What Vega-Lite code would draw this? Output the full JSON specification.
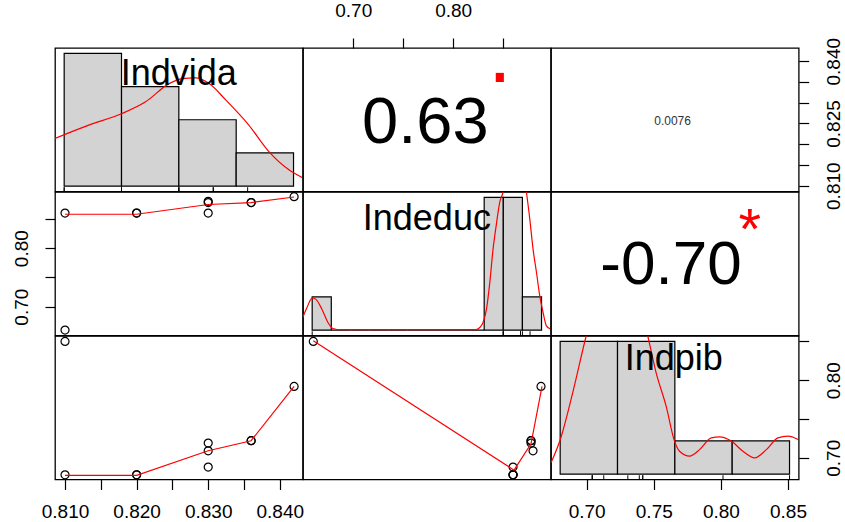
{
  "$schema": "https://vega.github.io/schema/vega-lite/v6.json",
  "background": "white",
  "padding": {"left": 11, "top": 0, "right": 2, "bottom": 5},
  "columns": 3,
  "spacing": 0,
  "bounds": "flush",
  "resolve": {"scale": {"x": "independent", "y": "independent"}},
  "config": {
    "view": {"stroke": "black", "strokeWidth": 1.3},
    "axis": {"domain": false, "grid": false, "ticks": true, "tickColor": "black", "tickWidth": 1.2, "tickSize": 10, "labelColor": "black", "labelFont": "Liberation Sans", "labelFontSize": 19, "labelOverlap": false, "labelFlush": false, "labelBound": false, "title": null}
  },
  "datasets": {
    "obs": [
      {"Indvida": 0.810, "Indeduc": 0.660, "Indpib": 0.850},
      {"Indvida": 0.810, "Indeduc": 0.860, "Indpib": 0.678},
      {"Indvida": 0.820, "Indeduc": 0.860, "Indpib": 0.678},
      {"Indvida": 0.820, "Indeduc": 0.860, "Indpib": 0.678},
      {"Indvida": 0.830, "Indeduc": 0.860, "Indpib": 0.688},
      {"Indvida": 0.830, "Indeduc": 0.878, "Indpib": 0.719},
      {"Indvida": 0.830, "Indeduc": 0.880, "Indpib": 0.709},
      {"Indvida": 0.836, "Indeduc": 0.878, "Indpib": 0.722},
      {"Indvida": 0.836, "Indeduc": 0.878, "Indpib": 0.722},
      {"Indvida": 0.842, "Indeduc": 0.888, "Indpib": 0.792}
    ],
    "vars": [{"var": "Indvida"}, {"var": "Indeduc"}, {"var": "Indpib"}],
    "cors": [
      {"pair": "Indvida-Indeduc", "r": "0.63", "sig": "."},
      {"pair": "Indvida-Indpib", "r": "0.0076", "sig": ""},
      {"pair": "Indeduc-Indpib", "r": "-0.70", "sig": "*"}
    ],
    "hist": [
      {"var": "Indvida", "start": 0.81, "end": 0.82, "rel": 1.0},
      {"var": "Indvida", "start": 0.82, "end": 0.83, "rel": 0.75},
      {"var": "Indvida", "start": 0.83, "end": 0.84, "rel": 0.5},
      {"var": "Indvida", "start": 0.84, "end": 0.85, "rel": 0.25},
      {"var": "Indeduc", "start": 0.66, "end": 0.68, "rel": 0.25},
      {"var": "Indeduc", "start": 0.68, "end": 0.70, "rel": 0},
      {"var": "Indeduc", "start": 0.70, "end": 0.72, "rel": 0},
      {"var": "Indeduc", "start": 0.72, "end": 0.74, "rel": 0},
      {"var": "Indeduc", "start": 0.74, "end": 0.76, "rel": 0},
      {"var": "Indeduc", "start": 0.76, "end": 0.78, "rel": 0},
      {"var": "Indeduc", "start": 0.78, "end": 0.80, "rel": 0},
      {"var": "Indeduc", "start": 0.80, "end": 0.82, "rel": 0},
      {"var": "Indeduc", "start": 0.82, "end": 0.84, "rel": 0},
      {"var": "Indeduc", "start": 0.84, "end": 0.86, "rel": 1.0},
      {"var": "Indeduc", "start": 0.86, "end": 0.88, "rel": 1.0},
      {"var": "Indeduc", "start": 0.88, "end": 0.90, "rel": 0.25},
      {"var": "Indpib", "start": 0.65, "end": 0.70, "rel": 1.0},
      {"var": "Indpib", "start": 0.70, "end": 0.75, "rel": 1.0},
      {"var": "Indpib", "start": 0.75, "end": 0.80, "rel": 0.25},
      {"var": "Indpib", "start": 0.80, "end": 0.85, "rel": 0.25}
    ],
    "dens": [
      {"var": "Indvida", "x": 0.8084, "y": 0.360},
      {"var": "Indvida", "x": 0.8143, "y": 0.460},
      {"var": "Indvida", "x": 0.8201, "y": 0.547},
      {"var": "Indvida", "x": 0.8242, "y": 0.635},
      {"var": "Indvida", "x": 0.8283, "y": 0.772},
      {"var": "Indvida", "x": 0.8306, "y": 0.810},
      {"var": "Indvida", "x": 0.8329, "y": 0.815},
      {"var": "Indvida", "x": 0.8353, "y": 0.772},
      {"var": "Indvida", "x": 0.8382, "y": 0.648},
      {"var": "Indvida", "x": 0.8422, "y": 0.460},
      {"var": "Indvida", "x": 0.8457, "y": 0.260},
      {"var": "Indvida", "x": 0.8492, "y": 0.123},
      {"var": "Indvida", "x": 0.8515, "y": 0.065},
      {"var": "Indeduc", "x": 0.6501, "y": 0.096},
      {"var": "Indeduc", "x": 0.6546, "y": 0.171},
      {"var": "Indeduc", "x": 0.6601, "y": 0.243},
      {"var": "Indeduc", "x": 0.6640, "y": 0.232},
      {"var": "Indeduc", "x": 0.6703, "y": 0.156},
      {"var": "Indeduc", "x": 0.6765, "y": 0.058},
      {"var": "Indeduc", "x": 0.6818, "y": 0.013},
      {"var": "Indeduc", "x": 0.6900, "y": 0.004},
      {"var": "Indeduc", "x": 0.8312, "y": 0.004},
      {"var": "Indeduc", "x": 0.8354, "y": 0.020},
      {"var": "Indeduc", "x": 0.8388, "y": 0.058},
      {"var": "Indeduc", "x": 0.8424, "y": 0.159},
      {"var": "Indeduc", "x": 0.8459, "y": 0.360},
      {"var": "Indeduc", "x": 0.8493, "y": 0.612},
      {"var": "Indeduc", "x": 0.8528, "y": 0.800},
      {"var": "Indeduc", "x": 0.8563, "y": 0.964},
      {"var": "Indeduc", "x": 0.8598, "y": 1.040},
      {"var": "Indeduc", "x": 0.8659, "y": 1.350},
      {"var": "Indeduc", "x": 0.8720, "y": 1.500},
      {"var": "Indeduc", "x": 0.8783, "y": 1.350},
      {"var": "Indeduc", "x": 0.8842, "y": 1.040},
      {"var": "Indeduc", "x": 0.8877, "y": 0.838},
      {"var": "Indeduc", "x": 0.8911, "y": 0.612},
      {"var": "Indeduc", "x": 0.8947, "y": 0.436},
      {"var": "Indeduc", "x": 0.8981, "y": 0.260},
      {"var": "Indeduc", "x": 0.9016, "y": 0.134},
      {"var": "Indeduc", "x": 0.9051, "y": 0.033},
      {"var": "Indeduc", "x": 0.9096, "y": 0.008},
      {"var": "Indpib", "x": 0.6420, "y": 0.086},
      {"var": "Indpib", "x": 0.6501, "y": 0.261},
      {"var": "Indpib", "x": 0.6609, "y": 0.612},
      {"var": "Indpib", "x": 0.6726, "y": 1.038},
      {"var": "Indpib", "x": 0.6842, "y": 1.400},
      {"var": "Indpib", "x": 0.6990, "y": 1.550},
      {"var": "Indpib", "x": 0.7140, "y": 1.400},
      {"var": "Indpib", "x": 0.7264, "y": 1.038},
      {"var": "Indpib", "x": 0.7337, "y": 0.762},
      {"var": "Indpib", "x": 0.7424, "y": 0.512},
      {"var": "Indpib", "x": 0.7497, "y": 0.249},
      {"var": "Indpib", "x": 0.7541, "y": 0.173},
      {"var": "Indpib", "x": 0.7629, "y": 0.136},
      {"var": "Indpib", "x": 0.7716, "y": 0.185},
      {"var": "Indpib", "x": 0.7817, "y": 0.273},
      {"var": "Indpib", "x": 0.7890, "y": 0.281},
      {"var": "Indpib", "x": 0.7992, "y": 0.249},
      {"var": "Indpib", "x": 0.8093, "y": 0.173},
      {"var": "Indpib", "x": 0.8196, "y": 0.123},
      {"var": "Indpib", "x": 0.8298, "y": 0.185},
      {"var": "Indpib", "x": 0.8399, "y": 0.273},
      {"var": "Indpib", "x": 0.8487, "y": 0.286},
      {"var": "Indpib", "x": 0.8574, "y": 0.261}
    ],
    "smooth": [
      {"panel": "vida_educ", "x": 0.810, "y": 0.858},
      {"panel": "vida_educ", "x": 0.820, "y": 0.858},
      {"panel": "vida_educ", "x": 0.830, "y": 0.8746},
      {"panel": "vida_educ", "x": 0.836, "y": 0.878},
      {"panel": "vida_educ", "x": 0.842, "y": 0.8875},
      {"panel": "vida_pib", "x": 0.810, "y": 0.6774},
      {"panel": "vida_pib", "x": 0.820, "y": 0.6774},
      {"panel": "vida_pib", "x": 0.830, "y": 0.7091},
      {"panel": "vida_pib", "x": 0.836, "y": 0.722},
      {"panel": "vida_pib", "x": 0.842, "y": 0.792},
      {"panel": "educ_pib", "x": 0.660, "y": 0.851},
      {"panel": "educ_pib", "x": 0.861, "y": 0.684},
      {"panel": "educ_pib", "x": 0.878, "y": 0.718},
      {"panel": "educ_pib", "x": 0.889, "y": 0.792}
    ]
  },
  "concat": [
    {
      "width": 247.7, "height": 143.5,
      "layer": [
        {"data": {"name": "hist"}, "transform": [{"filter": "datum.var === 'Indvida'"}],
         "mark": {"type": "rect", "fill": "#D3D3D3", "stroke": "black", "strokeWidth": 1.2},
         "encoding": {
           "x": {"field": "start", "type": "quantitative", "scale": {"domain": [0.8084, 0.8516], "nice": false, "zero": false}, "axis": null},
           "x2": {"field": "end"},
           "y": {"field": "rel", "type": "quantitative", "scale": {"domain": [-0.04, 1.04], "nice": false, "zero": false}, "axis": null},
           "y2": {"datum": 0}}},
        {"data": {"name": "dens"}, "transform": [{"filter": "datum.var === 'Indvida'"}],
         "mark": {"type": "line", "color": "red", "strokeWidth": 1.2, "clip": true, "interpolate": "monotone"},
         "encoding": {
           "x": {"field": "x", "type": "quantitative", "scale": {"domain": [0.8084, 0.8516], "nice": false, "zero": false}, "axis": null},
           "y": {"field": "y", "type": "quantitative", "scale": {"domain": [-0.04, 1.04], "nice": false, "zero": false}, "axis": null}}},
        {"data": {"name": "obs"},
         "mark": {"type": "rule", "color": "black", "strokeWidth": 1},
         "encoding": {
           "x": {"field": "Indvida", "type": "quantitative", "scale": {"domain": [0.8084, 0.8516], "nice": false, "zero": false}, "axis": null},
           "y": {"datum": -0.04, "type": "quantitative", "scale": {"domain": [-0.04, 1.04], "nice": false, "zero": false}, "axis": null},
           "y2": {"datum": -0.008}}},
        {"data": {"name": "vars"}, "transform": [{"filter": "datum.var === 'Indvida'"}],
         "mark": {"type": "text", "font": "Liberation Sans", "fontSize": 36, "baseline": "alphabetic", "align": "center", "color": "black"},
         "encoding": {
           "text": {"field": "var"},
           "x": {"datum": 0.83, "type": "quantitative", "scale": {"domain": [0.8084, 0.8516], "nice": false, "zero": false}, "axis": null},
           "y": {"datum": 0.76, "type": "quantitative", "scale": {"domain": [-0.04, 1.04], "nice": false, "zero": false}, "axis": null}}}
      ]
    },
    {
      "width": 247.7, "height": 143.5,
      "layer": [
        {"data": {"name": "cors"}, "transform": [{"filter": "datum.pair === 'Indvida-Indeduc'"}],
         "mark": {"type": "text", "font": "Liberation Sans", "fontSize": 65, "baseline": "alphabetic", "align": "center", "color": "black"},
         "encoding": {
           "text": {"field": "r"},
           "x": {"datum": 0.7722, "type": "quantitative", "scale": {"domain": [0.6497, 0.8977], "nice": false, "zero": false},
                 "axis": {"orient": "top", "values": [0.7, 0.75, 0.8, 0.85], "labelExpr": "datum.value == 0.7 || datum.value == 0.8 ? format(datum.value, '.2f') : ''", "labelPadding": 18, "labelAngle": 0, "labelAlign": "center", "labelBaseline": "bottom"}},
           "y": {"datum": 0.8202, "type": "quantitative", "scale": {"domain": [0.8086, 0.8432], "nice": false, "zero": false}, "axis": null}}},
        {"data": {"name": "cors"}, "transform": [{"filter": "datum.pair === 'Indvida-Indeduc'"}],
         "mark": {"type": "text", "font": "Liberation Sans", "fontSize": 85, "baseline": "alphabetic", "align": "center", "color": "red"},
         "encoding": {
           "text": {"field": "sig"},
           "x": {"datum": 0.8467, "type": "quantitative", "scale": {"domain": [0.6497, 0.8977], "nice": false, "zero": false},
                 "axis": {"orient": "top", "values": [0.7, 0.75, 0.8, 0.85], "labelExpr": "datum.value == 0.7 || datum.value == 0.8 ? format(datum.value, '.2f') : ''", "labelPadding": 18, "labelAngle": 0, "labelAlign": "center", "labelBaseline": "bottom"}},
           "y": {"datum": 0.8349, "type": "quantitative", "scale": {"domain": [0.8086, 0.8432], "nice": false, "zero": false}, "axis": null}}}
      ]
    },
    {
      "width": 247.7, "height": 143.5,
      "layer": [
        {"data": {"name": "cors"}, "transform": [{"filter": "datum.pair === 'Indvida-Indpib'"}],
         "mark": {"type": "text", "font": "Liberation Sans", "fontSize": 12, "baseline": "alphabetic", "align": "center", "color": "#333333"},
         "encoding": {
           "text": {"field": "r"},
           "x": {"datum": 0.764, "type": "quantitative", "scale": {"domain": [0.6734, 0.858], "nice": false, "zero": false}, "axis": null},
           "y": {"datum": 0.8246, "type": "quantitative", "scale": {"domain": [0.8086, 0.8432], "nice": false, "zero": false},
                 "axis": {"orient": "right", "values": [0.81, 0.815, 0.82, 0.825, 0.83, 0.835, 0.84], "labelExpr": "datum.value == 0.81 || datum.value == 0.825 || datum.value == 0.84 ? format(datum.value, '.3f') : ''", "labelPadding": 16, "labelAngle": -90, "labelAlign": "center", "labelBaseline": "top"}}}}
      ]
    },
    {
      "width": 247.7, "height": 143.5,
      "layer": [
        {"data": {"name": "obs"},
         "mark": {"type": "point", "shape": "circle", "filled": false, "stroke": "black", "strokeWidth": 1.2, "size": 64, "opacity": 1},
         "encoding": {
           "x": {"field": "Indvida", "type": "quantitative", "scale": {"domain": [0.8086, 0.8432], "nice": false, "zero": false}, "axis": null},
           "y": {"field": "Indeduc", "type": "quantitative", "scale": {"domain": [0.6508, 0.896], "nice": false, "zero": false},
                 "axis": {"orient": "left", "values": [0.7, 0.75, 0.8, 0.85], "labelExpr": "datum.value == 0.7 || datum.value == 0.8 ? format(datum.value, '.2f') : ''", "labelPadding": 14, "labelAngle": -90, "labelAlign": "center", "labelBaseline": "bottom"}}}},
        {"data": {"name": "smooth"}, "transform": [{"filter": "datum.panel === 'vida_educ'"}],
         "mark": {"type": "line", "color": "red", "strokeWidth": 1.2, "clip": true},
         "encoding": {
           "x": {"field": "x", "type": "quantitative", "scale": {"domain": [0.8086, 0.8432], "nice": false, "zero": false}, "axis": null},
           "y": {"field": "y", "type": "quantitative", "scale": {"domain": [0.6508, 0.896], "nice": false, "zero": false},
                 "axis": {"orient": "left", "values": [0.7, 0.75, 0.8, 0.85], "labelExpr": "datum.value == 0.7 || datum.value == 0.8 ? format(datum.value, '.2f') : ''", "labelPadding": 14, "labelAngle": -90, "labelAlign": "center", "labelBaseline": "bottom"}}}}
      ]
    },
    {
      "width": 247.7, "height": 143.5,
      "layer": [
        {"data": {"name": "hist"}, "transform": [{"filter": "datum.var === 'Indeduc'"}],
         "mark": {"type": "rect", "fill": "#D3D3D3", "stroke": "black", "strokeWidth": 1.2},
         "encoding": {
           "x": {"field": "start", "type": "quantitative", "scale": {"domain": [0.6504, 0.9096], "nice": false, "zero": false}, "axis": null},
           "x2": {"field": "end"},
           "y": {"field": "rel", "type": "quantitative", "scale": {"domain": [-0.04, 1.04], "nice": false, "zero": false}, "axis": null},
           "y2": {"datum": 0}}},
        {"data": {"name": "dens"}, "transform": [{"filter": "datum.var === 'Indeduc'"}],
         "mark": {"type": "line", "color": "red", "strokeWidth": 1.2, "clip": true, "interpolate": "monotone"},
         "encoding": {
           "x": {"field": "x", "type": "quantitative", "scale": {"domain": [0.6504, 0.9096], "nice": false, "zero": false}, "axis": null},
           "y": {"field": "y", "type": "quantitative", "scale": {"domain": [-0.04, 1.04], "nice": false, "zero": false}, "axis": null}}},
        {"data": {"name": "obs"},
         "mark": {"type": "rule", "color": "black", "strokeWidth": 1},
         "encoding": {
           "x": {"field": "Indeduc", "type": "quantitative", "scale": {"domain": [0.6504, 0.9096], "nice": false, "zero": false}, "axis": null},
           "y": {"datum": -0.04, "type": "quantitative", "scale": {"domain": [-0.04, 1.04], "nice": false, "zero": false}, "axis": null},
           "y2": {"datum": -0.008}}},
        {"data": {"name": "vars"}, "transform": [{"filter": "datum.var === 'Indeduc'"}],
         "mark": {"type": "text", "font": "Liberation Sans", "fontSize": 36, "baseline": "alphabetic", "align": "center", "color": "black"},
         "encoding": {
           "text": {"field": "var"},
           "x": {"datum": 0.78, "type": "quantitative", "scale": {"domain": [0.6504, 0.9096], "nice": false, "zero": false}, "axis": null},
           "y": {"datum": 0.753, "type": "quantitative", "scale": {"domain": [-0.04, 1.04], "nice": false, "zero": false}, "axis": null}}}
      ]
    },
    {
      "width": 247.7, "height": 143.5,
      "layer": [
        {"data": {"name": "cors"}, "transform": [{"filter": "datum.pair === 'Indeduc-Indpib'"}],
         "mark": {"type": "text", "font": "Liberation Sans", "fontSize": 62, "baseline": "alphabetic", "align": "center", "color": "black"},
         "encoding": {
           "text": {"field": "r"},
           "x": {"datum": 0.7628, "type": "quantitative", "scale": {"domain": [0.6734, 0.858], "nice": false, "zero": false}, "axis": null},
           "y": {"datum": 0.7388, "type": "quantitative", "scale": {"domain": [0.6508, 0.896], "nice": false, "zero": false}, "axis": null}}},
        {"data": {"name": "cors"}, "transform": [{"filter": "datum.pair === 'Indeduc-Indpib'"}],
         "mark": {"type": "text", "font": "Liberation Sans", "fontSize": 58, "baseline": "alphabetic", "align": "center", "color": "red"},
         "encoding": {
           "text": {"field": "sig"},
           "x": {"datum": 0.8215, "type": "quantitative", "scale": {"domain": [0.6734, 0.858], "nice": false, "zero": false}, "axis": null},
           "y": {"datum": 0.7978, "type": "quantitative", "scale": {"domain": [0.6508, 0.896], "nice": false, "zero": false}, "axis": null}}}
      ]
    },
    {
      "width": 247.7, "height": 143.5,
      "layer": [
        {"data": {"name": "obs"},
         "mark": {"type": "point", "shape": "circle", "filled": false, "stroke": "black", "strokeWidth": 1.2, "size": 64, "opacity": 1},
         "encoding": {
           "x": {"field": "Indvida", "type": "quantitative", "scale": {"domain": [0.8086, 0.8432], "nice": false, "zero": false},
                 "axis": {"orient": "bottom", "values": [0.81, 0.815, 0.82, 0.825, 0.83, 0.835, 0.84], "labelExpr": "datum.value == 0.81 || datum.value == 0.82 || datum.value == 0.83 || datum.value == 0.84 ? format(datum.value, '.3f') : ''", "labelPadding": 13, "labelAngle": 0, "labelAlign": "center", "labelBaseline": "top"}},
           "y": {"field": "Indpib", "type": "quantitative", "scale": {"domain": [0.672, 0.857], "nice": false, "zero": false}, "axis": null}}},
        {"data": {"name": "smooth"}, "transform": [{"filter": "datum.panel === 'vida_pib'"}],
         "mark": {"type": "line", "color": "red", "strokeWidth": 1.2, "clip": true},
         "encoding": {
           "x": {"field": "x", "type": "quantitative", "scale": {"domain": [0.8086, 0.8432], "nice": false, "zero": false},
                 "axis": {"orient": "bottom", "values": [0.81, 0.815, 0.82, 0.825, 0.83, 0.835, 0.84], "labelExpr": "datum.value == 0.81 || datum.value == 0.82 || datum.value == 0.83 || datum.value == 0.84 ? format(datum.value, '.3f') : ''", "labelPadding": 13, "labelAngle": 0, "labelAlign": "center", "labelBaseline": "top"}},
           "y": {"field": "y", "type": "quantitative", "scale": {"domain": [0.672, 0.857], "nice": false, "zero": false}, "axis": null}}}
      ]
    },
    {
      "width": 247.7, "height": 143.5,
      "layer": [
        {"data": {"name": "obs"},
         "mark": {"type": "point", "shape": "circle", "filled": false, "stroke": "black", "strokeWidth": 1.2, "size": 64, "opacity": 1},
         "encoding": {
           "x": {"field": "Indeduc", "type": "quantitative", "scale": {"domain": [0.6497, 0.8977], "nice": false, "zero": false}, "axis": null},
           "y": {"field": "Indpib", "type": "quantitative", "scale": {"domain": [0.672, 0.857], "nice": false, "zero": false}, "axis": null}}},
        {"data": {"name": "smooth"}, "transform": [{"filter": "datum.panel === 'educ_pib'"}],
         "mark": {"type": "line", "color": "red", "strokeWidth": 1.2, "clip": true},
         "encoding": {
           "x": {"field": "x", "type": "quantitative", "scale": {"domain": [0.6497, 0.8977], "nice": false, "zero": false}, "axis": null},
           "y": {"field": "y", "type": "quantitative", "scale": {"domain": [0.672, 0.857], "nice": false, "zero": false}, "axis": null}}}
      ]
    },
    {
      "width": 247.7, "height": 143.5,
      "resolve": {"scale": {"x": "independent", "y": "independent"}, "axis": {"x": "independent", "y": "independent"}},
      "layer": [
        {
          "layer": [
            {"data": {"name": "hist"}, "transform": [{"filter": "datum.var === 'Indpib'"}],
             "mark": {"type": "rect", "fill": "#D3D3D3", "stroke": "black", "strokeWidth": 1.2},
             "encoding": {
               "x": {"field": "start", "type": "quantitative", "scale": {"domain": [0.642, 0.858], "nice": false, "zero": false}, "axis": null},
               "x2": {"field": "end"},
               "y": {"field": "rel", "type": "quantitative", "scale": {"domain": [-0.04, 1.04], "nice": false, "zero": false}, "axis": null},
               "y2": {"datum": 0}}},
            {"data": {"name": "dens"}, "transform": [{"filter": "datum.var === 'Indpib'"}],
             "mark": {"type": "line", "color": "red", "strokeWidth": 1.2, "clip": true, "interpolate": "monotone"},
             "encoding": {
               "x": {"field": "x", "type": "quantitative", "scale": {"domain": [0.642, 0.858], "nice": false, "zero": false}, "axis": null},
               "y": {"field": "y", "type": "quantitative", "scale": {"domain": [-0.04, 1.04], "nice": false, "zero": false}, "axis": null}}},
            {"data": {"name": "obs"},
             "mark": {"type": "rule", "color": "black", "strokeWidth": 1},
             "encoding": {
               "x": {"field": "Indpib", "type": "quantitative", "scale": {"domain": [0.642, 0.858], "nice": false, "zero": false}, "axis": null},
               "y": {"datum": -0.04, "type": "quantitative", "scale": {"domain": [-0.04, 1.04], "nice": false, "zero": false}, "axis": null},
               "y2": {"datum": -0.008}}},
            {"data": {"name": "vars"}, "transform": [{"filter": "datum.var === 'Indpib'"}],
             "mark": {"type": "text", "font": "Liberation Sans", "fontSize": 36, "baseline": "alphabetic", "align": "center", "color": "black"},
             "encoding": {
               "text": {"field": "var"},
               "x": {"datum": 0.749, "type": "quantitative", "scale": {"domain": [0.642, 0.858], "nice": false, "zero": false}, "axis": null},
               "y": {"datum": 0.782, "type": "quantitative", "scale": {"domain": [-0.04, 1.04], "nice": false, "zero": false}, "axis": null}}}
          ]
        },
        {"data": {"name": "obs"},
         "mark": {"type": "point", "opacity": 0},
         "encoding": {
           "x": {"field": "Indpib", "type": "quantitative", "scale": {"domain": [0.6734, 0.858], "nice": false, "zero": false},
                 "axis": {"orient": "bottom", "values": [0.7, 0.75, 0.8, 0.85], "labelExpr": "format(datum.value, '.2f')", "labelPadding": 13, "labelAngle": 0, "labelAlign": "center", "labelBaseline": "top"}},
           "y": {"field": "Indpib", "type": "quantitative", "scale": {"domain": [0.672, 0.857], "nice": false, "zero": false},
                 "axis": {"orient": "right", "values": [0.7, 0.75, 0.8, 0.85], "labelExpr": "datum.value == 0.7 || datum.value == 0.8 ? format(datum.value, '.2f') : ''", "labelPadding": 16, "labelAngle": -90, "labelAlign": "center", "labelBaseline": "top"}}}}
      ]
    }
  ]
}
